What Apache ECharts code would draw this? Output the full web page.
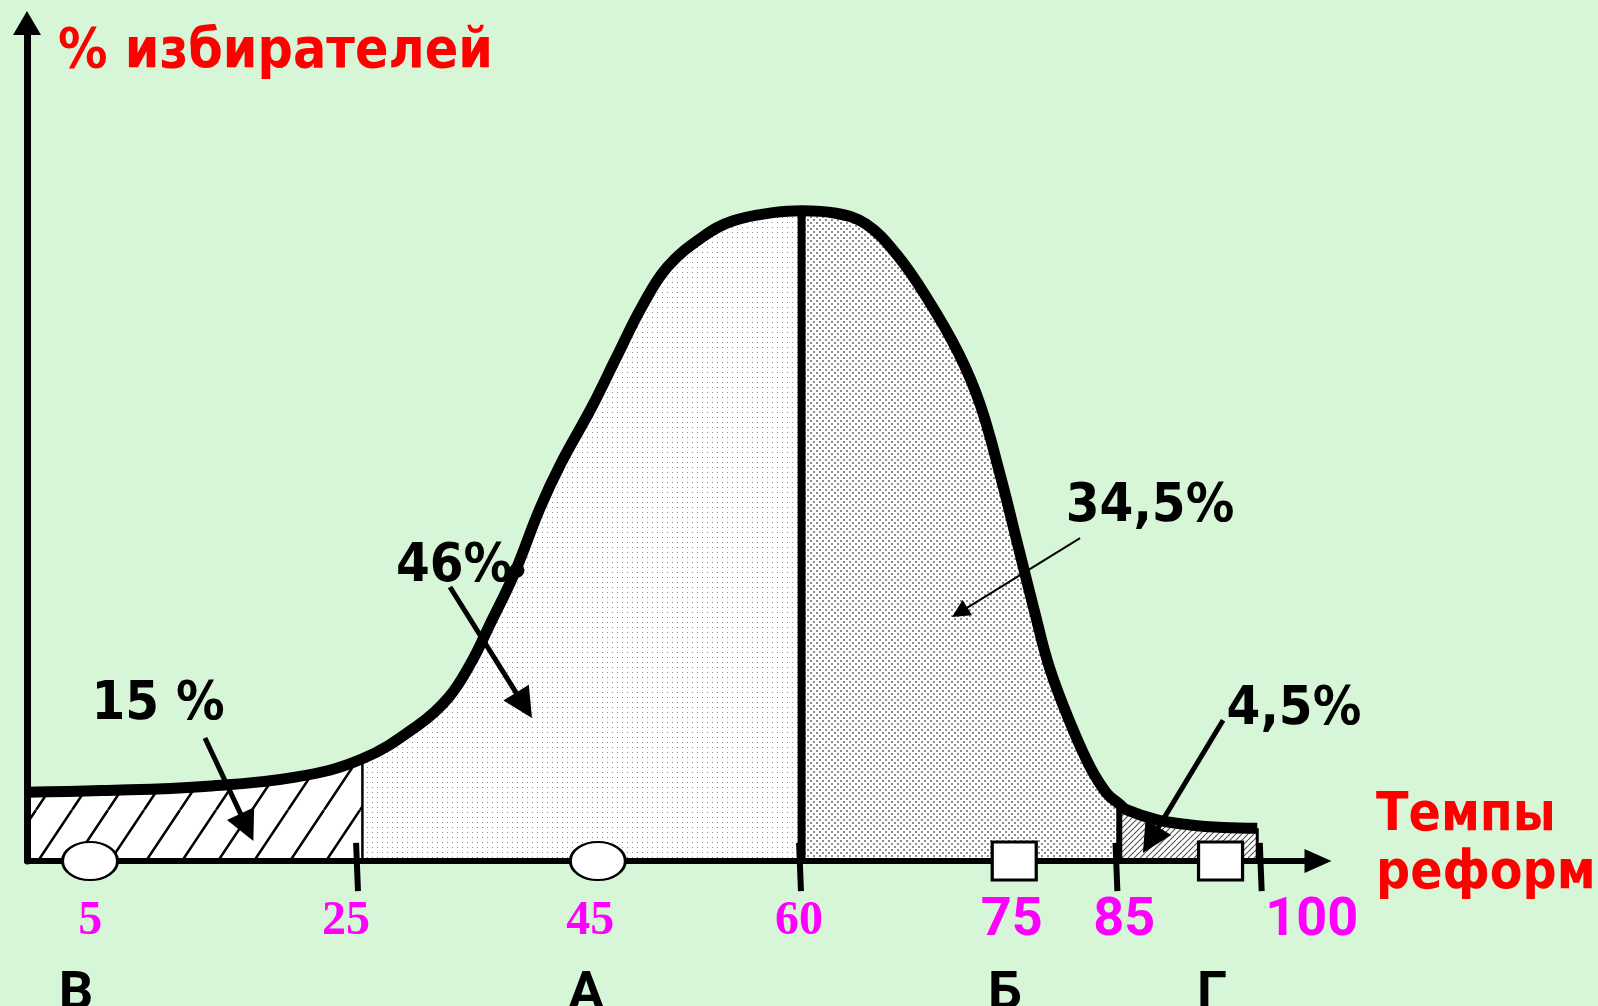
<!DOCTYPE html>
<html>
<head>
<meta charset="utf-8">
<script src="https://cdn.jsdelivr.net/npm/echarts@6/dist/echarts.min.js"></script>
<style>
html,body{margin:0;padding:0;background:#D7F5D7;}
#chart{width:1598px;height:1006px;}
</style>
</head>
<body>
<div id="chart"></div>
<script>
// ---------- DATA (schematic units: x = reform pace position, y = share of voters) ----------
const curveX = [-1, 4.9, 13.0, 20.2, 25.5, 29.9, 32.3, 34.1, 35.5, 37.5, 39.5, 41.2, 43.6, 45.6, 47.6, 49.6, 52.4, 54.8, 58.1, 60.2, 62.9, 65.3, 67.7, 70.1, 72.6, 74.3, 75.9, 77.4, 78.6, 79.8, 81.5, 83.0, 84.3, 85.3, 85.9, 88.3, 90.9, 93.5, 96.2];
const curveY = [8.2, 8.4, 8.9, 10.0, 12.2, 16.2, 19.5, 23.7, 28.0, 34.3, 42.0, 47.5, 54.1, 60.2, 66.2, 70.9, 74.5, 76.4, 77.4, 77.6, 77.3, 76.0, 72.4, 67.2, 60.6, 54.5, 46.0, 37.0, 29.8, 23.0, 16.2, 11.2, 8.1, 6.8, 6.1, 4.9, 4.3, 4.0, 3.9];

const regionBounds = [-1, 25.5, 60.2, 85.3, 96.2];

const tickMarkX = [25, 60, 85, 96.4];
const tickLabels = ['5', '25', '45', '60', '75', '85', '100'];
const tickLabelX = [4.0, 24.2, 43.5, 60.0, 76.8, 85.7, 100.5];

const groupLetters = ['В', 'А', 'Б', 'Г'];
const groupLetterX = [2.87, 43.17, 76.27, 92.62];

const ovalMarkerX = [3.98, 44.1];
const squareMarkerX = [77.0, 93.3];

const shareLabels = ['15 %', '46%', '34,5%', '4,5%'];
const shareLabelX = [9.35, 32.74, 87.73, 99.1];
const shareLabelY = [18.6, 35.1, 42.3, 18.0];

const arrowFrom = [[13.06, 14.68], [32.42, 32.7], [82.2, 38.54], [93.5, 16.8]];
const arrowTo = [[16.38, 4.02], [38.27, 18.58], [72.69, 29.68], [87.78, 2.49]];

const curveDot = [37.71, 34.7];

const yAxisTitle = '% избирателей';
const xAxisTitleLines = ['Темпы', 'реформ'];

// ---------- STYLE ----------
const SANS = "'DejaVu Sans Condensed', 'DejaVu Sans', sans-serif";
const DIGITS = "Roboto, 'DejaVu Sans Condensed', sans-serif";
const SERIF = "'Liberation Serif', 'DejaVu Serif', serif";
const RED = '#FF0000';
const MAGENTA = '#FF00FF';
const boundaryWidths = [2.5, 8, 6, 3];
const TICK_TOP = 2.15, TICK_BOTTOM = -3.6;
const TICK_LABEL_Y = -7.25, LETTER_Y = -16.0;

function pattern(w, h, draw) {
  const c = document.createElement('canvas');
  c.width = w; c.height = h;
  const ctx = c.getContext('2d');
  ctx.fillStyle = '#ffffff';
  ctx.fillRect(0, 0, w, h);
  draw(ctx, w, h);
  return { image: c, repeat: 'repeat' };
}
function diag(ctx, w, h) {
  ctx.beginPath();
  for (const dx of [-w, 0, w]) { ctx.moveTo(dx, h); ctx.lineTo(dx + w, 0); }
  ctx.stroke();
}
const fills = [
  pattern(36, 54, (ctx, w, h) => { ctx.strokeStyle = '#000'; ctx.lineWidth = 2.5; diag(ctx, w, h); }),
  pattern(5, 5, (ctx) => { ctx.fillStyle = '#8a8a8a'; ctx.fillRect(2, 2, 1, 1); }),
  pattern(6, 6, (ctx) => { ctx.fillStyle = '#8c8c8c'; ctx.fillRect(0, 0, 2, 2); ctx.fillRect(3, 3, 2, 2); }),
  pattern(6, 6, (ctx, w, h) => { ctx.strokeStyle = '#555'; ctx.lineWidth = 1.2; diag(ctx, w, h); })
];

// ---------- BUILD ----------
const curve = curveX.map((x, i) => [x, curveY[i]]);
const curveAt = x => curveY[curveX.indexOf(x)];

const series = [];
const SMOOTH = 0.4;

for (let r = 0; r < 4; r++) {
  const a = regionBounds[r], b = regionBounds[r + 1];
  series.push({
    type: 'line', smooth: SMOOTH, silent: true, z: 1,
    data: curve.filter(p => p[0] >= a && p[0] <= b),
    symbol: 'none',
    lineStyle: { width: 0, opacity: 0 },
    areaStyle: { color: fills[r], opacity: 1 }
  });
}
for (let r = 1; r < regionBounds.length; r++) {
  const x = regionBounds[r];
  series.push({
    type: 'line', silent: true, z: 3, symbol: 'none',
    data: [[x, 0], [x, curveAt(x)]],
    lineStyle: { color: '#000', width: boundaryWidths[r - 1] }
  });
}
series.push({
  type: 'line', smooth: SMOOTH, silent: true, z: 5, symbol: 'none',
  data: curve,
  lineStyle: { color: '#000', width: 11, cap: 'butt', join: 'round' }
});
series.push({
  type: 'scatter', silent: true, z: 6, symbol: 'circle', symbolSize: 15,
  data: [curveDot], itemStyle: { color: '#000', opacity: 1 }
});
tickMarkX.forEach(x => {
  series.push({
    type: 'line', silent: true, z: 12, symbol: 'none', clip: false,
    data: [[x, TICK_TOP], [x + 0.15, TICK_BOTTOM]],
    lineStyle: { color: '#000', width: 6 }
  });
});
series.push({
  type: 'scatter', silent: true, z: 20, clip: false, symbol: 'circle', symbolSize: [55, 38],
  data: ovalMarkerX.map(x => [x, 0]),
  itemStyle: { color: '#fff', borderColor: '#000', borderWidth: 2.5, opacity: 1 }
});
series.push({
  type: 'scatter', silent: true, z: 20, clip: false, symbol: 'rect', symbolSize: [44, 38],
  data: squareMarkerX.map(x => [x, 0]),
  itemStyle: { color: '#fff', borderColor: '#000', borderWidth: 3, opacity: 1 }
});
const thick = [0, 1, 3], thin = [2];
series.push({
  type: 'lines', coordinateSystem: 'cartesian2d', silent: true, z: 8,
  symbol: ['none', 'triangle'], symbolSize: 30,
  lineStyle: { color: '#000', width: 5, opacity: 1, curveness: 0 },
  data: thick.map(i => ({ coords: [arrowFrom[i], arrowTo[i]] }))
});
series.push({
  type: 'lines', coordinateSystem: 'cartesian2d', silent: true, z: 8,
  symbol: ['none', 'triangle'], symbolSize: 18,
  lineStyle: { color: '#000', width: 2, opacity: 1, curveness: 0 },
  data: thin.map(i => ({ coords: [arrowFrom[i], arrowTo[i]] }))
});
function textSeries(items, style) {
  return {
    type: 'scatter', silent: true, z: 15, clip: false, symbolSize: 1,
    itemStyle: { color: 'rgba(0,0,0,0)', opacity: 1 },
    data: items,
    label: Object.assign({ show: true, position: 'inside', formatter: '{b}', fontWeight: 'bold', opacity: 1, textBorderWidth: 0 }, style)
  };
}
const serifIdx = [0, 1, 2, 3], sansIdx = [4, 5, 6];
series.push(textSeries(serifIdx.map(i => ({ name: tickLabels[i], value: [tickLabelX[i], TICK_LABEL_Y] })),
  { color: MAGENTA, fontFamily: SERIF, fontSize: 48 }));
series.push(textSeries(sansIdx.map(i => ({ name: tickLabels[i], value: [tickLabelX[i], TICK_LABEL_Y] })),
  { color: MAGENTA, fontFamily: DIGITS, fontSize: 54 }));
series.push(textSeries(groupLetters.map((t, i) => ({ name: t, value: [groupLetterX[i], LETTER_Y] })),
  { color: '#000', fontFamily: DIGITS, fontSize: 54 }));
series.push(textSeries(shareLabels.map((t, i) => ({ name: t, value: [shareLabelX[i], shareLabelY[i]] })),
  { color: '#000', fontFamily: SANS, fontSize: 54 }));

const titleRich = {
  t: { color: RED, fontSize: 53, fontWeight: 'bold', fontFamily: SANS, lineHeight: 58 },
  gap: { fontSize: 10, lineHeight: 32 }
};

const option = {
  backgroundColor: '#D7F5D7',
  animation: false,
  grid: { left: 27, right: 280, top: 23, bottom: 145, containLabel: false, outerBoundsMode: 'none' },
  xAxis: {
    type: 'value', min: -1, max: 101, z: 10,
    name: xAxisTitleLines.map(s => '{t|' + s + '}').join('\n') + '\n{gap| }',
    nameLocation: 'end', nameGap: 58,
    nameTextStyle: { align: 'left', verticalAlign: 'middle', rich: titleRich },
    axisLine: { show: true, onZero: false, symbol: ['none', 'triangle'], symbolSize: [24, 27], lineStyle: { color: '#000', width: 6 } },
    axisTick: { show: false }, axisLabel: { show: false }, splitLine: { show: false }
  },
  yAxis: {
    type: 'value', min: 0, max: 100, z: 10,
    name: yAxisTitle, nameLocation: 'end', nameGap: -30,
    nameTextStyle: { color: RED, fontSize: 55, fontWeight: 'bold', fontFamily: SANS, align: 'left', verticalAlign: 'middle', padding: [0, 0, 0, 31] },
    axisLine: { show: true, onZero: false, symbol: ['none', 'triangle'], symbolSize: [28, 24], lineStyle: { color: '#000', width: 7 } },
    axisTick: { show: false }, axisLabel: { show: false }, splitLine: { show: false }
  },
  series: series
};

const chart = echarts.init(document.getElementById('chart'), null, { renderer: 'canvas' });
chart.setOption(option);
</script>
</body>
</html>
